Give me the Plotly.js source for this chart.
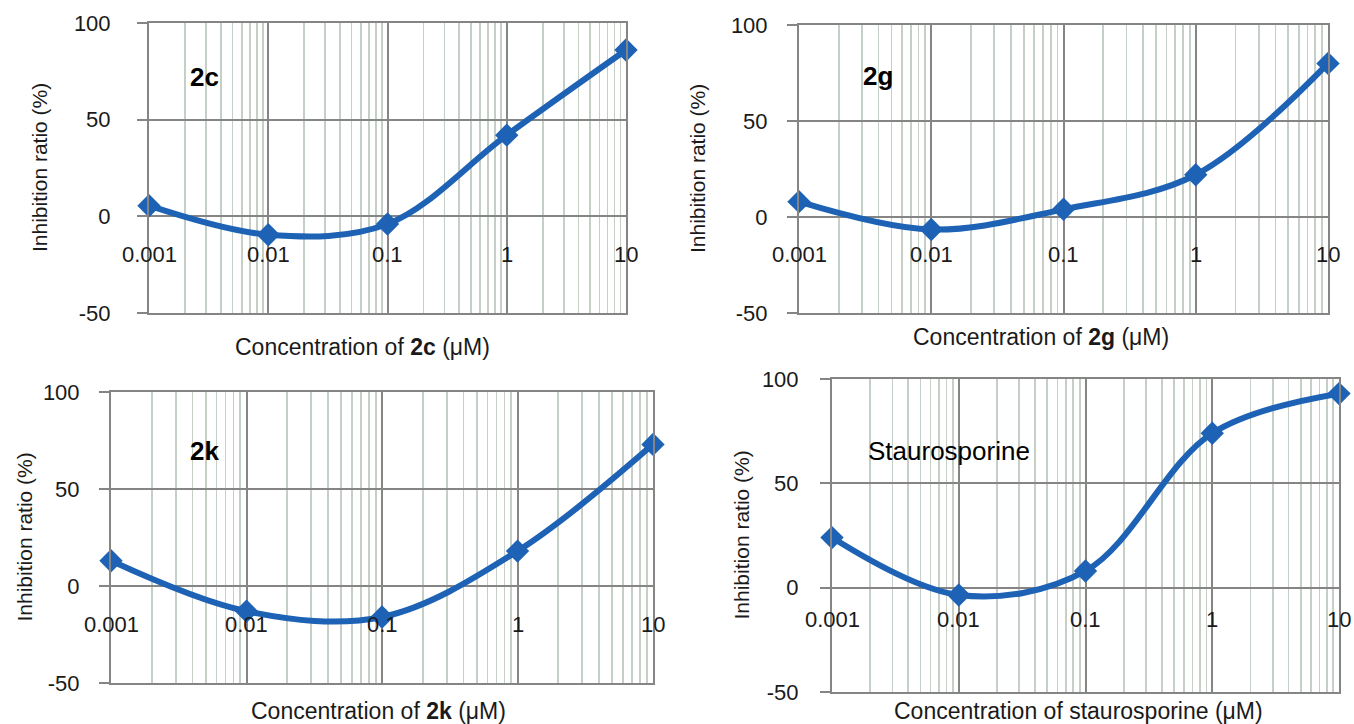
<!DOCTYPE html>
<html>
<head>
<meta charset="utf-8">
<script src="https://cdn.plot.ly/plotly-3.0.1.min.js"></script>
<style>
html,body{margin:0;padding:0;background:#fff;}
#chart{width:1354px;height:724px;}
</style>
</head>
<body>
<div id="chart"></div>
<script>
// ---- data ----
const concentration = [0.001, 0.01, 0.1, 1, 10];
const inhibition2c = [5.5, -9.5, -4, 42, 86];
const inhibition2g = [8, -6.5, 4, 22, 80];
const inhibition2k = [13, -13, -16, 18, 73];
const inhibitionStaurosporine = [24, -3.5, 8, 74, 93];
const compoundLabels = ['<b>2c</b>', '<b>2g</b>', '<b>2k</b>', 'Staurosporine'];
const xTitles = ['Concentration of <b>2c</b> (μM)', 'Concentration of <b>2g</b> (μM)',
                 'Concentration of <b>2k</b> (μM)', 'Concentration of staurosporine (μM)'];
const yTitle = 'Inhibition ratio (%)';
const xTickVals = [0.001, 0.01, 0.1, 1, 10];
const xTickText = ['0.001', '0.01', '0.1', '1', '10'];
const yTickVals = [-50, 0, 50, 100];
const yTickText = ['-50', '0', '50', '100'];
const series = [inhibition2c, inhibition2g, inhibition2k, inhibitionStaurosporine];

// ---- layout geometry (pixels) ----
const W = 1354, H = 724;
const panels = [
  {x0:149, x1:626, yt:23,  yb:313, ytitleX:40,  xtitleX:362,  xtitleY:347, labX:205, labY:77,  tickShift:38, standoff:22},
  {x0:799, x1:1328, yt:25, yb:313, ytitleX:698, xtitleX:1041, xtitleY:337, labX:878, labY:76,  tickShift:37, standoff:15},
  {x0:111, x1:653, yt:392, yb:683, ytitleX:24,  xtitleX:378,  xtitleY:711, labX:204, labY:451, tickShift:38, standoff:15},
  {x0:832, x1:1339, yt:379, yb:692, ytitleX:741, xtitleX:1078, xtitleY:711, labX:949, labY:451, tickShift:32, standoff:17}
];
const BLUE = '#1d62b4';
const GRID = '#858585';
const FONT = 'Liberation Sans, Arial, sans-serif';
const fx = p => p / W;
const fy = p => 1 - p / H;

const traces = [];
const layout = {
  width: W, height: H,
  margin: {l:0, r:0, t:0, b:0},
  paper_bgcolor: '#ffffff', plot_bgcolor: '#ffffff',
  showlegend: false,
  font: {family: FONT, size: 22, color: '#1a1a1a'},
  annotations: []
};

panels.forEach((p, i) => {
  const n = i === 0 ? '' : String(i + 1);
  traces.push({
    x: concentration, y: series[i],
    xaxis: 'x' + n, yaxis: 'y' + n,
    type: 'scatter', mode: 'lines+markers',
    line: {color: BLUE, width: 6, shape: 'spline', smoothing: 1},
    marker: {symbol: 'diamond', size: 18, color: BLUE},
    cliponaxis: false
  });
  layout['xaxis' + n] = {
    type: 'log', range: [-3, 1], domain: [fx(p.x0), fx(p.x1)],
    anchor: 'y' + n,
    dtick: 1, tick0: 0,
    showgrid: true, gridcolor: GRID, gridwidth: 2,
    minor: {dtick: 'D1', showgrid: true, gridcolor: '#c6cfc6', gridwidth: 1.7, ticks: ''},
    showticklabels: false, ticks: '',
    showline: true, mirror: true, linecolor: GRID, linewidth: 2,
    zeroline: false, fixedrange: true
  };
  layout['yaxis' + n] = {
    range: [-50, 100], domain: [fy(p.yb), fy(p.yt)],
    anchor: 'x' + n,
    tickvals: yTickVals, ticktext: yTickText,
    showgrid: true, gridcolor: GRID, gridwidth: 2,
    zeroline: false,
    showline: true, mirror: true, linecolor: GRID, linewidth: 2,
    ticks: 'outside', ticklen: 10, tickwidth: 2, tickcolor: GRID,
    ticklabelstandoff: p.standoff,
    tickfont: {family: FONT, size: 22, color: '#1a1a1a'},
    fixedrange: true
  };
  // x tick labels sitting under the zero line
  xTickVals.forEach((v, k) => {
    layout.annotations.push({
      xref: 'x' + n, yref: 'y' + n, x: Math.log10(v), y: 0,
      text: xTickText[k], showarrow: false, yanchor: 'middle', xanchor: 'center',
      yshift: -p.tickShift,
      font: {family: FONT, size: 22, color: '#1a1a1a'}
    });
  });
  // axis titles
  layout.annotations.push({
    xref: 'paper', yref: 'paper', x: fx(p.ytitleX), y: fy((p.yt + p.yb) / 2),
    text: yTitle, textangle: -90, showarrow: false,
    xanchor: 'center', yanchor: 'middle',
    font: {family: FONT, size: 21, color: '#1a1a1a'}
  });
  layout.annotations.push({
    xref: 'paper', yref: 'paper', x: fx(p.xtitleX), y: fy(p.xtitleY),
    text: xTitles[i], showarrow: false, xanchor: 'center', yanchor: 'middle',
    font: {family: FONT, size: 23, color: '#1a1a1a'}
  });
  // compound label inside panel
  layout.annotations.push({
    xref: 'paper', yref: 'paper', x: fx(p.labX), y: fy(p.labY),
    text: compoundLabels[i], showarrow: false, xanchor: 'center', yanchor: 'middle',
    font: {family: FONT, size: 26, color: '#000000'}
  });
});

Plotly.newPlot('chart', traces, layout, {staticPlot: true, displayModeBar: false});
</script>
</body>
</html>
